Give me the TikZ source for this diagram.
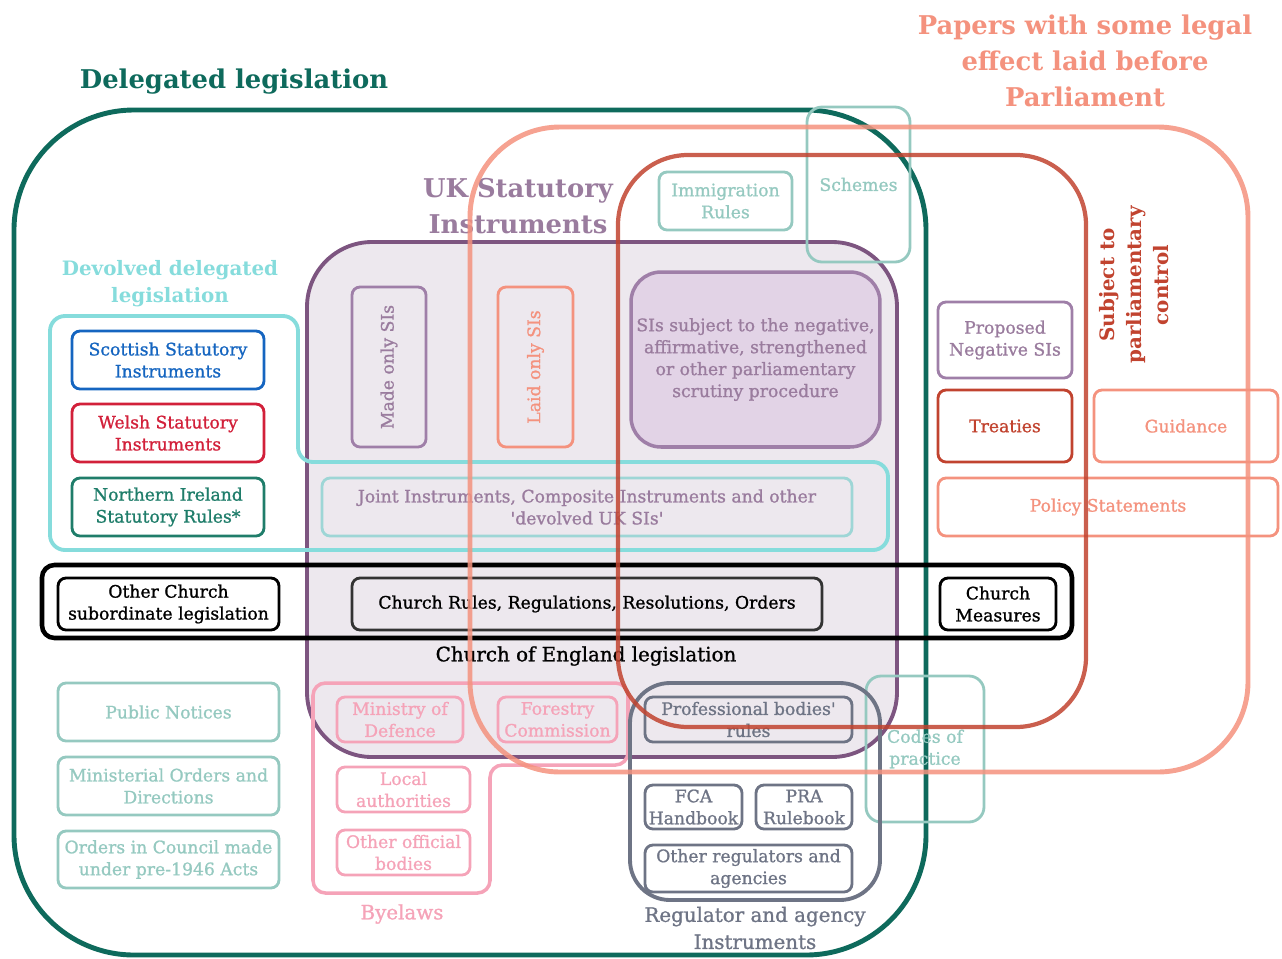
\documentclass[tikz,border=0pt]{standalone}
\usepackage{fontspec}
\setmainfont{DejaVu Serif}
\newfontfamily\boxserif{DejaVu Serif}[FakeBold=1.1]

\definecolor{delteal}{RGB}{14,106,92}
\definecolor{salmon}{RGB}{244,146,126}
\definecolor{ctrlred}{RGB}{193,67,47}
\definecolor{siborder}{RGB}{125,85,128}
\definecolor{sitext}{RGB}{154,124,158}
\definecolor{sifill}{RGB}{237,232,238}
\definecolor{scrfill}{RGB}{226,211,230}
\definecolor{scrborder}{RGB}{159,127,168}
\definecolor{devcyan}{RGB}{134,220,220}
\definecolor{jointcyan}{RGB}{158,214,214}
\definecolor{paleteal}{RGB}{149,201,192}
\definecolor{byepink}{RGB}{245,163,184}
\definecolor{reggrey}{RGB}{110,116,133}
\definecolor{scotblue}{RGB}{21,101,192}
\definecolor{welshred}{RGB}{210,32,58}
\definecolor{nigreen}{RGB}{31,125,106}

\tikzset{
  tbox/.style={draw=#1, text=#1, line width=1.6pt, rounded corners=0.16cm,
    align=center, inner sep=0pt, font=\boxserif\fontsize{9.8}{12.5}\selectfont},
  bigtitle/.style={text=#1, align=center, inner sep=0pt,
    font=\fontsize{14.7}{20.5}\selectfont\bfseries},
  midtitle/.style={text=#1, align=center, inner sep=0pt,
    font=\fontsize{11.3}{15.2}\selectfont\bfseries},
  label/.style={text=#1, align=center, inner sep=0pt,
    font=\boxserif\fontsize{11.3}{15.4}\selectfont},
}

\begin{document}
\begin{tikzpicture}[x=0.02cm,y=-0.02cm]
  \useasboundingbox (0,0) rectangle (1282,958);

  % delegated legislation
  \node[bigtitle=delteal] (deltitle) at (234,82) {Delegated legislation};
  \draw[delteal, line width=2.8pt, rounded corners=2.4cm] (14,110) rectangle (926,955);

  % UK statutory instruments
  \node[bigtitle=sitext] (sititle) at (518,206) {UK Statutory\\Instruments};
  \draw[draw=siborder, fill=sifill, line width=2.2pt, rounded corners=1.3cm] (307,242) rectangle (897,757);

  % devolved
  \node[midtitle=devcyan] (devtitle) at (170,284) {Devolved delegated\\legislation};
  \draw[devcyan, line width=2.2pt, rounded corners=0.3cm]
    (50,316) -- (298,316) -- (298,462) -- (888,462) -- (888,550) -- (50,550) -- cycle;
  \node[tbox=scotblue, minimum width=3.84cm, minimum height=1.16cm] (scot) at (168,360) {Scottish Statutory\\Instruments};
  \node[tbox=welshred, minimum width=3.84cm, minimum height=1.16cm] (welsh) at (168,433) {Welsh Statutory\\Instruments};
  \node[tbox=nigreen, minimum width=3.84cm, minimum height=1.16cm] (nisr) at (168,507) {Northern Ireland\\Statutory Rules*};
  \node[tbox=jointcyan, text=sitext, minimum width=10.6cm, minimum height=1.16cm] (joint) at (587,507)
    {Joint Instruments, Composite Instruments and other\\\textquotesingle devolved UK SIs\textquotesingle};

  % SI kinds
  \node[tbox=scrborder, text=sitext, rotate=90, minimum width=3.2cm, minimum height=1.48cm] (madeonly) at (389,367) {Made only SIs};
  \node[tbox=salmon, rotate=90, minimum width=3.2cm, minimum height=1.5cm] (laidonly) at (535.5,367) {Laid only SIs};
  \node[tbox=scrborder, text=sitext, fill=scrfill, line width=2pt, rounded corners=0.6cm,
    minimum width=4.98cm, minimum height=3.5cm] (scrutiny) at (755.5,359.5)
    {SIs subject to the negative,\\affirmative, strengthened\\or other parliamentary\\scrutiny procedure};

  % church of england
  \draw[black, line width=2.6pt, rounded corners=0.25cm] (42,565) rectangle (1072,638);
  \node[tbox=black, minimum width=4.42cm, minimum height=1.04cm] (othchurch) at (168.5,604) {Other Church\\subordinate legislation};
  \node[tbox=black!80, text=black, minimum width=9.4cm, minimum height=1.04cm] (churchrules) at (587,604) {Church Rules, Regulations, Resolutions, Orders};
  \node[tbox=black, minimum width=2.32cm, minimum height=1.04cm] (measures) at (998,604) {Church\\Measures};
  \node[label=black] (coe) at (586,656) {Church of England legislation};

  % laid papers
  \node[tbox=paleteal, minimum width=2.66cm, minimum height=1.16cm] (immig) at (725.5,201) {Immigration\\Rules};
  \node[tbox=paleteal, rounded corners=0.3cm, minimum width=2.06cm, minimum height=3.1cm] (schemes) at (858.5,184.5) {Schemes};
  \node[tbox=scrborder, text=sitext, minimum width=2.68cm, minimum height=1.52cm] (propneg) at (1005,340) {Proposed\\Negative SIs};
  \node[tbox=ctrlred, minimum width=2.68cm, minimum height=1.44cm] (treaties) at (1005,426) {Treaties};
  \node[tbox=salmon, minimum width=3.68cm, minimum height=1.44cm] (guidance) at (1186,426) {Guidance};
  \node[tbox=salmon, minimum width=6.8cm, minimum height=1.16cm] (policy) at (1108,507) {Policy Statements};
  \node[tbox=paleteal, rounded corners=0.3cm, minimum width=2.36cm, minimum height=2.92cm] (codes) at (925,749) {Codes of\\practice};

  % other delegated
  \node[tbox=paleteal, minimum width=4.42cm, minimum height=1.16cm] (pubnot) at (168.5,712) {Public Notices};
  \node[tbox=paleteal, minimum width=4.42cm, minimum height=1.16cm] (minord) at (168.5,786) {Ministerial Orders and\\Directions};
  \node[tbox=paleteal, minimum width=4.42cm, minimum height=1.14cm] (oic) at (168.5,859.5) {Orders in Council made\\under pre-1946 Acts};

  % byelaws
  \draw[byepink, line width=2pt, rounded corners=0.25cm]
    (313,683) -- (628,683) -- (628,765) -- (490,765) -- (490,893) -- (313,893) -- cycle;
  \node[tbox=byepink, minimum width=2.52cm, minimum height=0.9cm] (mod) at (400,719.5) {Ministry of\\Defence};
  \node[tbox=byepink, minimum width=2.38cm, minimum height=0.9cm] (forestry) at (557.5,719.5) {Forestry\\Commission};
  \node[tbox=byepink, minimum width=2.66cm, minimum height=0.9cm] (localauth) at (403.5,789.5) {Local\\authorities};
  \node[tbox=byepink, minimum width=2.66cm, minimum height=0.9cm] (othbodies) at (403.5,852.5) {Other official\\bodies};
  \node[label=byepink] (byelaws) at (402,914) {Byelaws};

  % regulators
  \draw[reggrey, line width=2.2pt, rounded corners=0.8cm] (630,683) rectangle (880,900);
  \node[tbox=reggrey, minimum width=4.14cm, minimum height=0.9cm] (profrules) at (748.5,719.5) {Professional bodies\textquotesingle\\rules};
  \node[tbox=reggrey, minimum width=1.94cm, minimum height=0.88cm] (fca) at (693.5,807) {FCA\\Handbook};
  \node[tbox=reggrey, minimum width=1.92cm, minimum height=0.88cm] (pra) at (804,807) {PRA\\Rulebook};
  \node[tbox=reggrey, minimum width=4.14cm, minimum height=0.94cm] (othreg) at (748.5,868.5) {Other regulators and\\agencies};
  \node[label=reggrey] (regtitle) at (755,928) {Regulator and agency\\Instruments};

  % papers laid and parliamentary control
  \node[bigtitle=salmon] (paptitle) at (1085,61) {Papers with some legal\\effect laid before\\Parliament};
  \draw[salmon, line width=2.8pt, rounded corners=1.8cm, opacity=.85] (470,127) rectangle (1248,772);
  \draw[ctrlred, line width=2.4pt, rounded corners=1.4cm, opacity=.85] (618,155) rectangle (1086,727);
  \node[midtitle=ctrlred, rotate=90] (ctrltitle) at (1134,285) {Subject to\\parliamentary\\control};

\end{tikzpicture}
\end{document}
